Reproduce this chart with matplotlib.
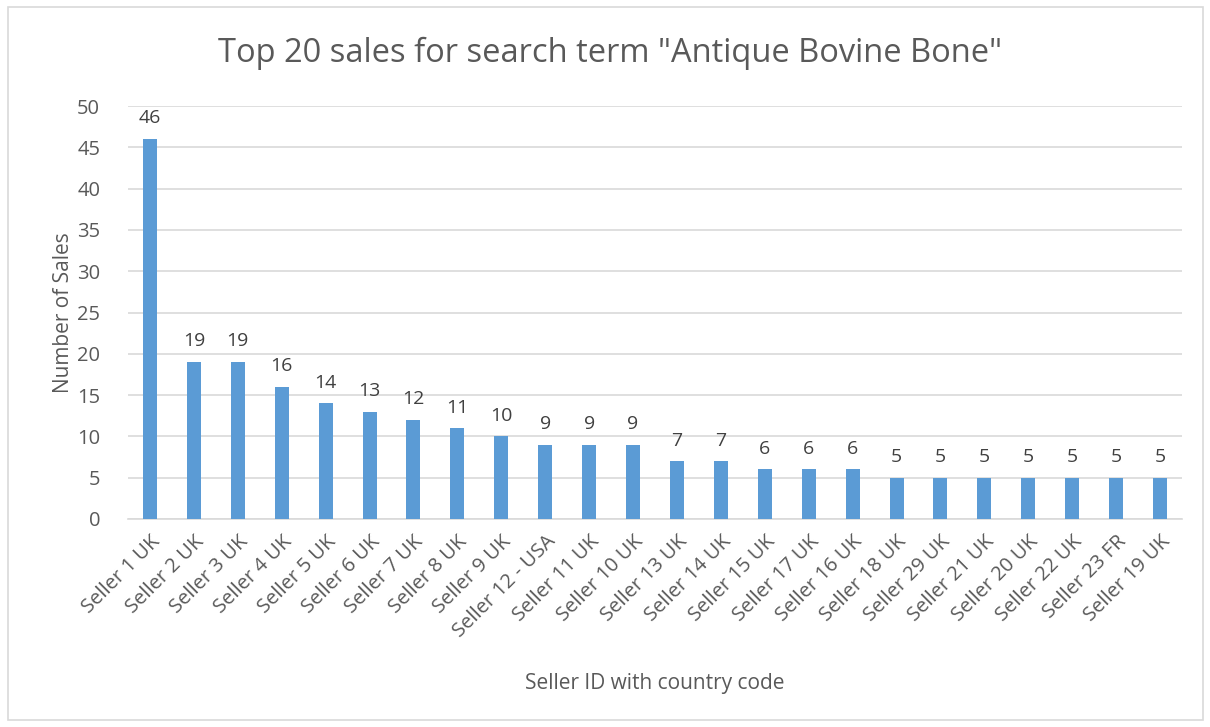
import matplotlib
matplotlib.use("Agg")
import matplotlib.pyplot as plt
from matplotlib.patches import Rectangle

sellers = ["Seller 1 UK", "Seller 2 UK", "Seller 3 UK", "Seller 4 UK", "Seller 5 UK",
           "Seller 6 UK", "Seller 7 UK", "Seller 8 UK", "Seller 9 UK", "Seller 12 - USA",
           "Seller 11 UK", "Seller 10 UK", "Seller 13 UK", "Seller 14 UK", "Seller 15 UK",
           "Seller 17 UK", "Seller 16 UK", "Seller 18 UK", "Seller 29 UK", "Seller 21 UK",
           "Seller 20 UK", "Seller 22 UK", "Seller 23 FR", "Seller 19 UK"]
sales = [46, 19, 19, 16, 14, 13, 12, 11, 10, 9, 9, 9, 7, 7, 6, 6, 6, 5, 5, 5, 5, 5, 5, 5]
yticks = [0, 5, 10, 15, 20, 25, 30, 35, 40, 45, 50]

plt.rcParams['font.family'] = ['Open Sans', 'DejaVu Sans']
txt = '#595959'
grid = '#d9d9d9'

fig = plt.figure(figsize=(12.1, 7.27), dpi=100)
fig.patches.append(Rectangle((8/1210, 7/727), 1195/1210, 713/727, transform=fig.transFigure,
                             fill=False, edgecolor='#d9d9d9', linewidth=1.2))
ax = fig.add_axes([128/1210, (727-519)/727, (1182-128)/1210, (519-106)/727])

x = list(range(len(sellers)))
ax.bar(x, sales, width=0.32, color='#5b9bd5', zorder=3)
for xi, v in zip(x, sales):
    ax.text(xi, v + 1.4, str(v), ha='center', va='bottom', fontsize=14, color='#404040')

ax.set_xlim(-0.5, len(sellers) - 0.5)
ax.set_ylim(0, 50)
ax.set_yticks(yticks)
ax.yaxis.grid(True, color=grid, linewidth=1.2, zorder=0)
ax.set_axisbelow(True)
for s in ['top', 'right', 'left']:
    ax.spines[s].set_visible(False)
ax.spines['bottom'].set_color(grid)
ax.spines['bottom'].set_linewidth(1.2)
ax.tick_params(axis='both', length=0, labelsize=14.5, colors=txt)
ax.tick_params(axis='y', pad=20)
ax.set_xticks(x)
ax.set_xticklabels(sellers, rotation=45, ha='right', rotation_mode='anchor')
ax.tick_params(axis='x', pad=9)

ax.set_ylabel('Number of Sales', fontsize=15, color=txt, labelpad=2)
fig.text(655/1210, 1 - 683/727, 'Seller ID with country code', ha='center', va='center',
         fontsize=15, color=txt)
fig.text(610/1210, 1 - 53/727, 'Top 20 sales for search term "Antique Bovine Bone"',
         ha='center', va='center', fontsize=23.5, color=txt)

fig.savefig('out.png', dpi=100)
